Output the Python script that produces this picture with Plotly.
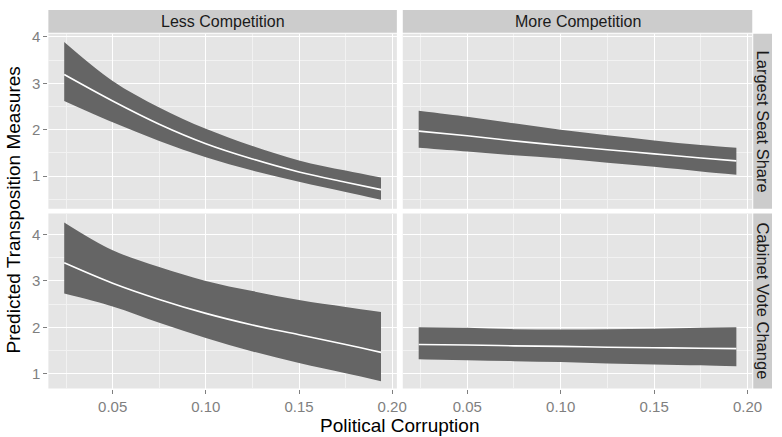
import plotly.graph_objects as go

W, H = 782, 437

x_vals = [0.024, 0.05, 0.075, 0.10, 0.125, 0.15, 0.175, 0.194]

col_labels = ["Less Competition", "More Competition"]
row_labels = ["Largest Seat Share", "Cabinet Vote Change"]

# Largest Seat Share, Less Competition
lss_less_upper = [3.89, 3.05, 2.48, 2.02, 1.65, 1.34, 1.12, 0.97]
lss_less_fit = [3.19, 2.62, 2.12, 1.70, 1.37, 1.09, 0.87, 0.71]
lss_less_lower = [2.62, 2.16, 1.76, 1.41, 1.12, 0.88, 0.66, 0.49]
# Largest Seat Share, More Competition
lss_more_upper = [2.41, 2.28, 2.14, 2.00, 1.88, 1.77, 1.67, 1.61]
lss_more_fit = [1.97, 1.87, 1.76, 1.66, 1.57, 1.48, 1.39, 1.33]
lss_more_lower = [1.61, 1.53, 1.45, 1.38, 1.29, 1.20, 1.10, 1.03]
# Cabinet Vote Change, Less Competition
cvc_less_upper = [4.26, 3.66, 3.30, 3.00, 2.78, 2.59, 2.44, 2.33]
cvc_less_fit = [3.39, 2.95, 2.60, 2.30, 2.05, 1.84, 1.63, 1.46]
cvc_less_lower = [2.73, 2.45, 2.10, 1.77, 1.48, 1.23, 1.01, 0.84]
# Cabinet Vote Change, More Competition
cvc_more_upper = [2.00, 1.99, 1.96, 1.95, 1.96, 1.97, 1.99, 2.00]
cvc_more_fit = [1.63, 1.62, 1.60, 1.59, 1.57, 1.56, 1.55, 1.54]
cvc_more_lower = [1.31, 1.29, 1.27, 1.25, 1.22, 1.20, 1.18, 1.16]

x_ticks = [0.05, 0.10, 0.15, 0.20]
x_tick_text = ["0.05", "0.10", "0.15", "0.20"]
x_minor = [0.025, 0.075, 0.125, 0.175]
y_ticks = [1, 2, 3, 4]
y_minor = [0.5, 1.5, 2.5, 3.5, 4.5]

panels = [
    (0, 0, lss_less_upper, lss_less_fit, lss_less_lower),
    (0, 1, lss_more_upper, lss_more_fit, lss_more_lower),
    (1, 0, cvc_less_upper, cvc_less_fit, cvc_less_lower),
    (1, 1, cvc_more_upper, cvc_more_fit, cvc_more_lower),
]

col_px = [(49, 402), (408, 762)]
row_px = [(29, 206), (211, 388)]
y_ranges = [[0.30, 4.07], [0.68, 4.45]]
x_range = [0.0155, 0.2025]

def px_x(p):
    return p / W

def px_y(p):
    return 1 - p / H

fig = go.Figure()
layout = {}

BAND = "#656565"
GRID = "#FFFFFF"
MINOR = "#F2F2F2"
PANEL = "#E5E5E5"
STRIP = "#CCCCCC"
TICKC = "#7F7F7F"
FONT = "Liberation Sans, Arial, sans-serif"

for r, c, up, fit, lo in panels:
    idx = r * 2 + c + 1
    xa = "x" if idx == 1 else f"x{idx}"
    ya = "y" if idx == 1 else f"y{idx}"
    fig.add_trace(go.Scatter(
        x=x_vals, y=lo, mode="lines", line=dict(width=0, shape="spline", color=BAND),
        xaxis=xa, yaxis=ya, showlegend=False, hoverinfo="skip"))
    fig.add_trace(go.Scatter(
        x=x_vals, y=up, mode="lines", fill="tonexty", fillcolor=BAND,
        line=dict(width=0, shape="spline", color=BAND),
        xaxis=xa, yaxis=ya, showlegend=False, hoverinfo="skip"))
    fig.add_trace(go.Scatter(
        x=x_vals, y=fit, mode="lines", line=dict(color="white", width=1.6, shape="spline"),
        xaxis=xa, yaxis=ya, showlegend=False))
    xkey = "xaxis" if idx == 1 else f"xaxis{idx}"
    ykey = "yaxis" if idx == 1 else f"yaxis{idx}"
    layout[xkey] = dict(
        domain=[px_x(col_px[c][0]), px_x(col_px[c][1])],
        range=x_range, anchor=ya,
        tickvals=x_ticks, ticktext=x_tick_text,
        showticklabels=(r == 1),
        ticks="outside" if r == 1 else "", ticklen=4, tickwidth=1, tickcolor=TICKC,
        tickfont=dict(family=FONT, size=15, color=TICKC),
        showgrid=True, gridcolor=GRID, gridwidth=1.4,
        minor=dict(tickvals=x_minor, showgrid=True, gridcolor=MINOR, gridwidth=0.7, ticks=""),
        zeroline=False, showline=False, fixedrange=True,
    )
    layout[ykey] = dict(
        domain=[px_y(row_px[r][1]), px_y(row_px[r][0])],
        range=y_ranges[r], anchor=xa,
        tickvals=y_ticks, showticklabels=(c == 0),
        ticks="outside" if c == 0 else "", ticklen=4, tickwidth=1, tickcolor=TICKC,
        tickfont=dict(family=FONT, size=15, color=TICKC),
        showgrid=True, gridcolor=GRID, gridwidth=1.4,
        minor=dict(tickvals=y_minor, showgrid=True, gridcolor=MINOR, gridwidth=0.7, ticks=""),
        zeroline=False, showline=False, fixedrange=True,
    )

shapes = []
annotations = []
for r in range(2):
    for c in range(2):
        shapes.append(dict(type="rect", xref="paper", yref="paper", layer="below",
                           x0=px_x(col_px[c][0]), x1=px_x(col_px[c][1]),
                           y0=px_y(row_px[r][1]), y1=px_y(row_px[r][0]),
                           fillcolor=PANEL, line=dict(width=0)))
for c, lab in enumerate(col_labels):
    shapes.append(dict(type="rect", xref="paper", yref="paper",
                       x0=px_x(col_px[c][0]), x1=px_x(col_px[c][1]),
                       y0=px_y(28), y1=px_y(5), fillcolor=STRIP, line=dict(width=0)))
    annotations.append(dict(text=lab, xref="paper", yref="paper",
                            x=px_x((col_px[c][0] + col_px[c][1]) / 2), y=px_y(16.5),
                            showarrow=False, xanchor="center", yanchor="middle",
                            font=dict(family=FONT, size=16, color="#1A1A1A")))
for r, lab in enumerate(row_labels):
    shapes.append(dict(type="rect", xref="paper", yref="paper",
                       x0=px_x(763), x1=px_x(782),
                       y0=px_y(row_px[r][1]), y1=px_y(row_px[r][0]),
                       fillcolor=STRIP, line=dict(width=0)))
    annotations.append(dict(text=lab, xref="paper", yref="paper",
                            x=px_x(772.5), y=px_y((row_px[r][0] + row_px[r][1]) / 2),
                            showarrow=False, xanchor="center", yanchor="middle", textangle=90,
                            font=dict(family=FONT, size=16.5, color="#1A1A1A")))

annotations.append(dict(text="Political Corruption", xref="paper", yref="paper",
                        x=px_x(405), y=px_y(425), showarrow=False,
                        xanchor="center", yanchor="middle",
                        font=dict(family=FONT, size=19, color="black")))
annotations.append(dict(text="Predicted Transposition Measures", xref="paper", yref="paper",
                        x=px_x(14), y=px_y(207), showarrow=False, textangle=-90,
                        xanchor="center", yanchor="middle",
                        font=dict(family=FONT, size=19, color="black")))

fig.update_layout(
    width=W, height=H, margin=dict(l=0, r=0, t=0, b=0),
    paper_bgcolor="white", plot_bgcolor="rgba(0,0,0,0)",
    shapes=shapes, annotations=annotations, showlegend=False,
    **layout,
)

fig.write_html("out.html", config={"displayModeBar": False},
               post_script="document.body.style.margin='0';document.body.style.padding='0';")
